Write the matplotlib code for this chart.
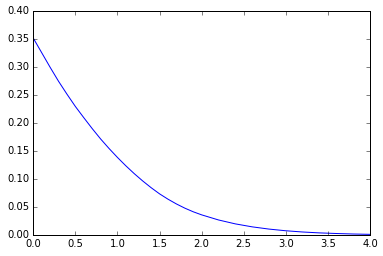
import numpy as np
import matplotlib
matplotlib.use("Agg")
import matplotlib.pyplot as plt

# valores
x = [0.0, 0.1, 0.2, 0.3, 0.4, 0.5, 0.6, 0.7, 0.8, 0.9, 1.0,
     1.1, 1.2, 1.3, 1.4, 1.5, 1.6, 1.7, 1.8, 1.9, 2.0,
     2.2, 2.4, 2.6, 2.8, 3.0, 3.2, 3.4, 3.6, 3.8, 4.0]
y = [0.352, 0.326, 0.300, 0.275, 0.252, 0.230, 0.210, 0.1905, 0.172, 0.155, 0.139,
     0.124, 0.110, 0.097, 0.085, 0.074, 0.0645, 0.056, 0.0485, 0.042, 0.0365,
     0.0274, 0.0204, 0.0151, 0.0111, 0.0081, 0.0059, 0.0043, 0.0032, 0.0023, 0.0017]

plt.style.use('classic')
plt.rcParams['font.size'] = 10

fig = plt.figure(figsize=(383/72, 256/72), dpi=72, facecolor='white')
ax = fig.add_axes([33.3/383, 20.7/256, 336.7/383, 224/256])
ax.plot(x, y, color='b', linewidth=1)
ax.set_xlim(0, 4)
ax.set_ylim(0, 0.4)
ax.tick_params(labelsize=10)

fig.savefig("out.png", dpi=72, facecolor='white')
